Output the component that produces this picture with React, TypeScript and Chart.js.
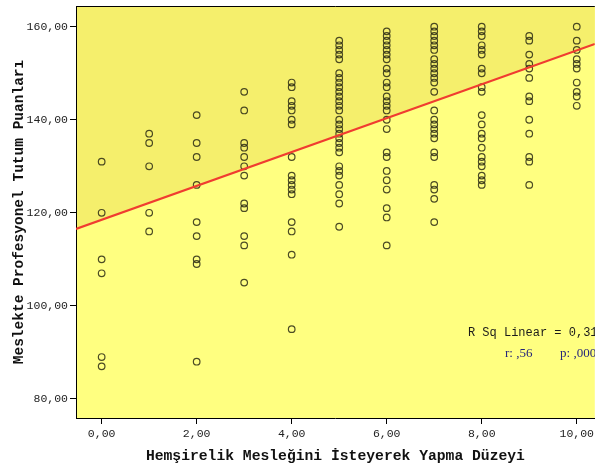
import React, { useEffect, useRef } from "react";
import { Chart, registerables } from "chart.js";

Chart.register(...registerables);

// Desire level (x) and attitude scores (y) per level
const levels = [0, 1, 2, 3, 4, 5, 6, 7, 8, 9, 10];
const scoresAt0 = [131, 120, 110, 107, 89, 87];
const scoresAt1 = [137, 135, 130, 120, 116];
const scoresAt2 = [141, 135, 132, 126, 118, 115, 110, 109, 88];
const scoresAt3 = [146, 142, 135, 134, 132, 130, 128, 122, 121, 115, 113, 105];
const scoresAt4 = [148, 147, 144, 143, 142, 140, 139, 132, 128, 127, 126, 125, 124, 118, 116, 111, 95];
const scoresAt5 = [157, 156, 155, 154, 153, 150, 149, 148, 147, 146, 145, 144, 143, 142, 140, 139, 138, 137, 136, 135, 134, 133, 130, 129, 128, 126, 124, 122, 117];
const scoresAt6 = [159, 158, 157, 156, 155, 154, 153, 151, 150, 148, 147, 145, 144, 143, 142, 140, 138, 133, 132, 129, 127, 125, 121, 119, 113];
const scoresAt7 = [160, 159, 158, 157, 156, 155, 153, 152, 151, 150, 149, 148, 146, 142, 140, 139, 138, 137, 136, 133, 132, 126, 125, 123, 118];
const scoresAt8 = [160, 159, 158, 156, 155, 154, 151, 150, 147, 146, 141, 139, 137, 136, 134, 132, 131, 130, 128, 127, 126];
const scoresAt9 = [158, 157, 154, 152, 151, 149, 145, 144, 140, 137, 132, 131, 126];
const scoresAt10 = [160, 157, 155, 153, 152, 151, 148, 146, 145, 143];
const scoreGroups = [scoresAt0, scoresAt1, scoresAt2, scoresAt3, scoresAt4, scoresAt5, scoresAt6, scoresAt7, scoresAt8, scoresAt9, scoresAt10];

const xTicks = [0, 2, 4, 6, 8, 10];
const yTicks = [80, 100, 120, 140, 160];
const xRange = [-0.54, 10.38];
const yRange = [75.9, 164.45];

const fitIntercept = 118.5;
const fitSlope = 3.64;

const xTitle = "Hemşirelik Mesleğini İsteyerek Yapma Düzeyi";
const yTitle = "Meslekte Profesyonel Tutum Puanları";
const rSqLabel = "R Sq Linear = 0,31";
const rLabel = "r: ,56";
const pLabel = "p: ,000";
const rSqPos = [7.71, 94.2];
const rPos = [8.49, 89.8];
const pPos = [9.65, 89.8];

const fmt = (v: number) => v.toFixed(2).replace(".", ",");

const App: React.FC = () => {
  const ref = useRef<HTMLCanvasElement | null>(null);

  useEffect(() => {
    document.body.style.margin = "0";
    const canvas = ref.current;
    if (!canvas) return;

    const points: { x: number; y: number }[] = [];
    scoreGroups.forEach((g, i) => g.forEach((v) => points.push({ x: levels[i], y: v })));
    const fitLine = [
      { x: xRange[0], y: fitIntercept + fitSlope * xRange[0] },
      { x: xRange[1], y: fitIntercept + fitSlope * xRange[1] },
    ];

    const bgPlugin = {
      id: "spssBg",
      beforeDraw(chart: any) {
        const { ctx, chartArea: a, scales } = chart;
        const xs = scales.x;
        const ys = scales.y;
        ctx.save();
        ctx.fillStyle = "#ffffff";
        ctx.fillRect(0, 0, chart.width, chart.height);
        ctx.fillStyle = "#ffff80";
        ctx.fillRect(a.left, a.top, a.right - a.left, a.bottom - a.top);
        // shaded area above the fit line
        const y0 = ys.getPixelForValue(fitLine[0].y);
        const y1 = ys.getPixelForValue(fitLine[1].y);
        ctx.beginPath();
        ctx.moveTo(xs.getPixelForValue(fitLine[0].x), a.top);
        ctx.lineTo(xs.getPixelForValue(fitLine[0].x), y0);
        ctx.lineTo(xs.getPixelForValue(fitLine[1].x), y1);
        ctx.lineTo(xs.getPixelForValue(fitLine[1].x), a.top);
        ctx.closePath();
        ctx.fillStyle = "#f5ef6c";
        ctx.fill();
        // top frame
        ctx.strokeStyle = "#000";
        ctx.lineWidth = 1;
        ctx.beginPath();
        ctx.moveTo(a.left, a.top + 0.5);
        ctx.lineTo(a.right, a.top + 0.5);
        ctx.stroke();
        ctx.restore();
      },
      afterDatasetsDraw(chart: any) {
        const { ctx, scales } = chart;
        const xs = scales.x;
        const ys = scales.y;
        ctx.save();
        ctx.textBaseline = "middle";
        ctx.textAlign = "left";
        ctx.fillStyle = "#1a1a1a";
        ctx.font = "12px 'Liberation Mono', monospace";
        ctx.fillText(rSqLabel, xs.getPixelForValue(rSqPos[0]), ys.getPixelForValue(rSqPos[1]));
        ctx.fillStyle = "#26267a";
        ctx.font = "13px 'Liberation Serif', serif";
        ctx.fillText(rLabel, xs.getPixelForValue(rPos[0]), ys.getPixelForValue(rPos[1]));
        ctx.fillText(pLabel, xs.getPixelForValue(pPos[0]), ys.getPixelForValue(pPos[1]));
        ctx.restore();
      },
    };

    const chart = new Chart(canvas, {
      type: "scatter",
      data: {
        datasets: [
          {
            type: "line",
            data: fitLine,
            borderColor: "#f03c30",
            borderWidth: 2.2,
            pointRadius: 0,
            fill: false,
            order: 0,
          } as any,
          {
            type: "scatter",
            data: points,
            pointRadius: 3.3,
            pointBorderWidth: 1.2,
            borderColor: "rgba(45,45,20,0.85)",
            backgroundColor: "rgba(0,0,0,0)",
            order: 1,
          } as any,
        ],
      },
      options: {
        responsive: false,
        animation: false,
        layout: { padding: { top: 6, left: 0, right: 0, bottom: 0 } },
        plugins: { legend: { display: false }, tooltip: { enabled: false } },
        scales: {
          x: {
            type: "linear",
            min: xRange[0],
            max: xRange[1],
            afterBuildTicks: (s: any) => {
              s.ticks = xTicks.map((v) => ({ value: v }));
            },
            afterFit: (s: any) => {
              s.height = 47;
            },
            grid: { drawOnChartArea: false, drawTicks: true, tickLength: 6, color: "#000", tickColor: "#000" },
            border: { display: true, color: "#000", width: 1 },
            ticks: {
              padding: 3,
              maxRotation: 0,
              autoSkip: false,
              color: "#222",
              font: { family: "'Liberation Mono', monospace", size: 11.5 },
              callback: (v: any) => fmt(Number(v)),
            },
            title: {
              display: true,
              text: xTitle,
              color: "#111",
              font: { family: "'Liberation Mono', monospace", size: 14.7, weight: "bold" },
              padding: { top: 0, bottom: 0 },
            },
          },
          y: {
            type: "linear",
            min: yRange[0],
            max: yRange[1],
            afterBuildTicks: (s: any) => {
              s.ticks = yTicks.map((v) => ({ value: v }));
            },
            afterFit: (s: any) => {
              s.width = 76;
              s.paddingTop = 0;
              s.paddingBottom = 0;
            },
            grid: { drawOnChartArea: false, drawTicks: true, tickLength: 6, color: "#000", tickColor: "#000" },
            border: { display: true, color: "#000", width: 1 },
            ticks: {
              padding: 2,
              color: "#222",
              font: { family: "'Liberation Mono', monospace", size: 11.5 },
              callback: (v: any) => fmt(Number(v)),
            },
            title: {
              display: true,
              text: yTitle,
              color: "#111",
              font: { family: "'Liberation Mono', monospace", size: 14.5, weight: "bold" },
              padding: { top: 11, bottom: 0 },
            },
          },
        },
      } as any,
      plugins: [bgPlugin],
    });

    return () => chart.destroy();
  }, []);

  return (
    <div style={{ width: 595, height: 465, overflow: "hidden" }}>
      <canvas ref={ref} width={600} height={465} style={{ display: "block" }} />
    </div>
  );
};

export default App;
